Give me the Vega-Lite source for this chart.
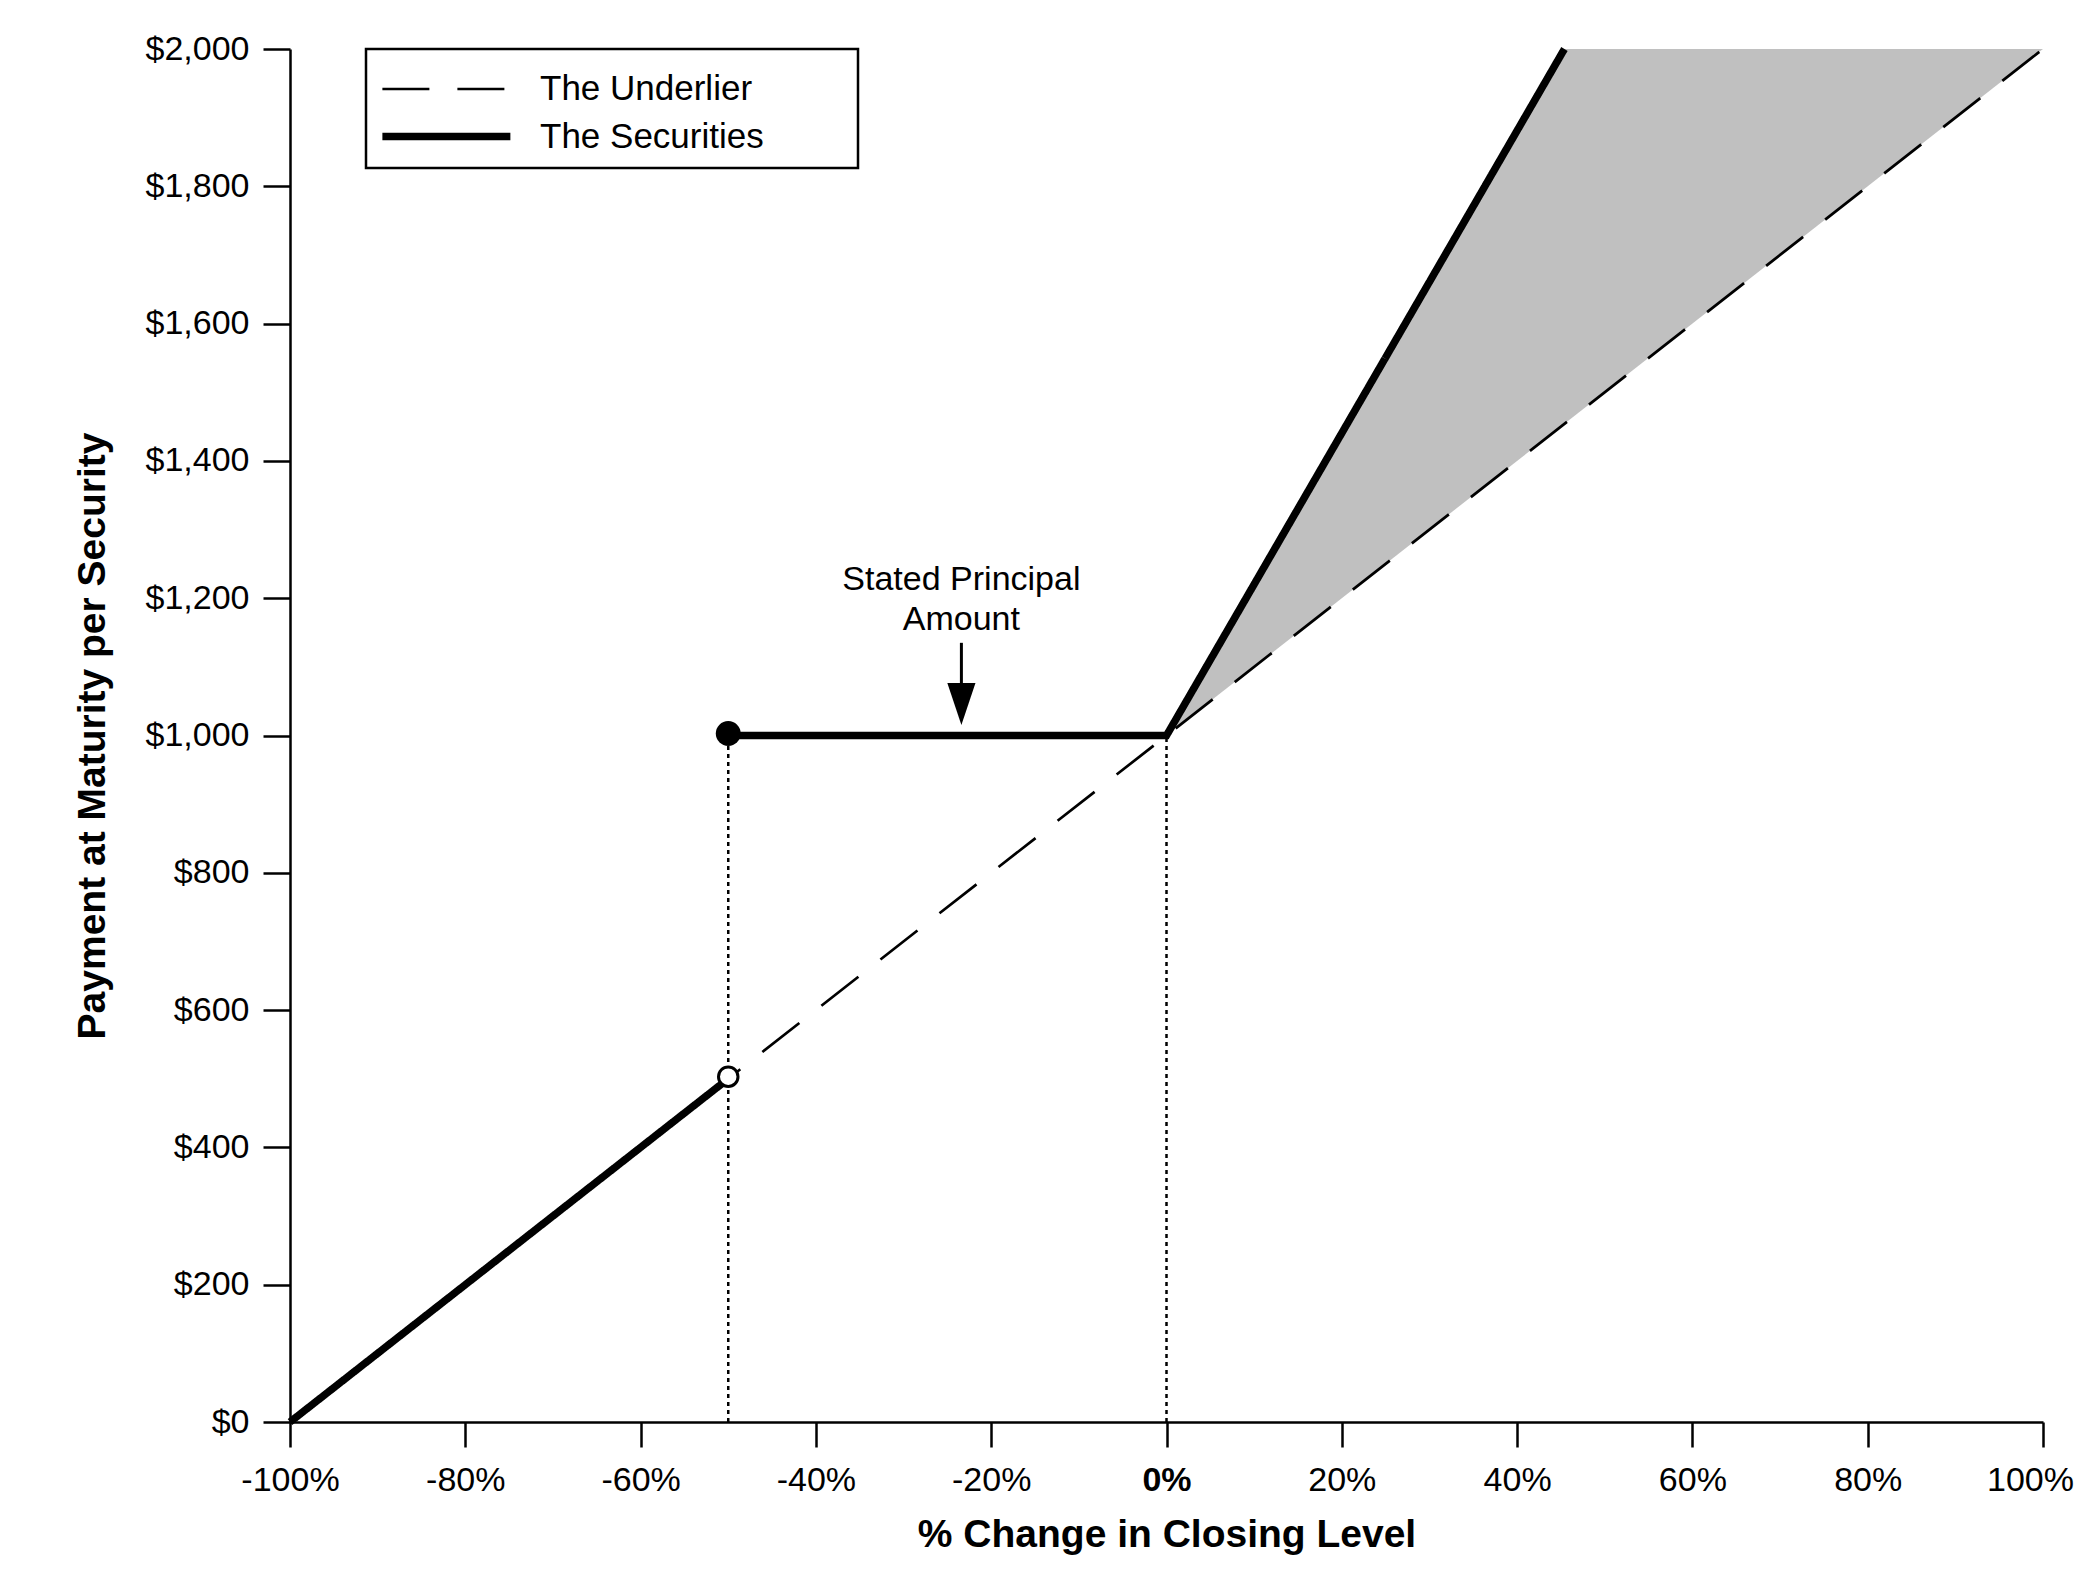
{
  "$schema": "https://vega.github.io/schema/vega-lite/v6.json",
  "width": 1753,
  "height": 1373,
  "autosize": {"type": "none"},
  "padding": {"left": 290, "top": 49, "right": 37, "bottom": 163},
  "background": "white",
  "config": {
    "view": {"stroke": null},
    "font": "Liberation Sans",
    "axis": {
      "grid": false,
      "domainColor": "black",
      "domainWidth": 2.5,
      "tickColor": "black",
      "tickWidth": 2.5,
      "labelColor": "black",
      "titleColor": "black",
      "labelFont": "Liberation Sans",
      "titleFont": "Liberation Sans",
      "labelFontSize": 34,
      "titleFontSize": 39,
      "titleFontWeight": "bold"
    }
  },
  "datasets": {
    "shade": [
      {"x": 0, "y": 1000, "y2": 1000},
      {"x": 45.4, "y": 2000, "y2": 1454},
      {"x": 100, "y": 2000, "y2": 2000}
    ],
    "guides": [
      {"x": -50, "y": 0, "y2": 1000},
      {"x": 0, "y": 0, "y2": 1000}
    ],
    "lines": [
      {"series": "The Underlier", "seg": "u", "x": -100, "y": 0},
      {"series": "The Underlier", "seg": "u", "x": 100, "y": 2000},
      {"series": "The Securities", "seg": "a", "x": -100, "y": 0},
      {"series": "The Securities", "seg": "a", "x": -50, "y": 500},
      {"series": "The Securities", "seg": "b", "x": -50, "y": 1000},
      {"series": "The Securities", "seg": "b", "x": 0, "y": 1000},
      {"series": "The Securities", "seg": "b", "x": 45.4, "y": 2000}
    ],
    "filledPt": [{"x": -50, "y": 1003}],
    "openPt": [{"x": -50, "y": 503}],
    "arrowShaft": [{"x": -23.4, "y": 1135, "y2": 1060}],
    "arrowHead": [{"x": -23.4, "y": 1046}],
    "note": [
      {"x": -23.4, "y": 1226, "t": "Stated Principal"},
      {"x": -23.4, "y": 1168, "t": "Amount"}
    ]
  },
  "encoding": {
    "x": {
      "field": "x",
      "type": "quantitative",
      "scale": {"domain": [-100, 100], "nice": false, "zero": false},
      "axis": {
        "title": "% Change in Closing Level",
        "values": [-100, -80, -60, -40, -20, 0, 20, 40, 60, 80, 100],
        "labelExpr": "datum.value + '%'",
        "labelFontWeight": {"condition": {"test": "datum.value === 0", "value": "bold"}, "value": "normal"},
        "labelOffset": {"condition": {"test": "datum.value === 100", "value": -13}, "value": 0},
        "tickSize": 25,
        "labelPadding": 16,
        "titlePadding": 18,
        "labelFlush": false,
        "labelOverlap": false
      }
    },
    "y": {
      "field": "y",
      "type": "quantitative",
      "scale": {"domain": [0, 2000], "nice": false},
      "axis": {
        "title": "Payment at Maturity per Security",
        "values": [0, 200, 400, 600, 800, 1000, 1200, 1400, 1600, 1800, 2000],
        "labelExpr": "'$' + format(datum.value, ',')",
        "tickSize": 27,
        "labelPadding": 14,
        "titlePadding": 33,
        "labelOverlap": false
      }
    }
  },
  "layer": [
    {
      "data": {"name": "shade"},
      "mark": {"type": "area", "color": "#c0c0c0", "opacity": 1},
      "encoding": {"y2": {"field": "y2"}}
    },
    {
      "data": {"name": "guides"},
      "mark": {"type": "rule", "color": "black", "strokeWidth": 2.5, "strokeDash": [4, 4]},
      "encoding": {"y2": {"field": "y2"}}
    },
    {
      "data": {"name": "lines"},
      "mark": {"type": "line", "color": "black"},
      "encoding": {
        "detail": {"field": "seg"},
        "strokeDash": {
          "field": "series",
          "type": "ordinal",
          "scale": {"domain": ["The Underlier", "The Securities"], "range": [[47, 28], [1, 0]]},
          "legend": {
            "title": "WWW",
            "titleOrient": "right",
            "titleOpacity": 0,
            "titleFontSize": 26,
            "titlePadding": 7,
            "orient": "none",
            "legendX": 76,
            "legendY": 0,
            "padding": 13,
            "strokeColor": "black",
            "symbolType": "M-1.02,0L3.98,0",
            "symbolSize": 2621,
            "symbolStrokeColor": "black",
            "symbolFillColor": "transparent",
            "labelFont": "Liberation Sans",
            "labelFontSize": 35,
            "labelColor": "black",
            "labelLimit": 0,
            "labelOffset": 102,
            "rowPadding": 0,
            "encode": {"legend": {"update": {"strokeWidth": {"value": 2.5}}}}
          }
        },
        "strokeWidth": {
          "field": "series",
          "type": "ordinal",
          "scale": {"domain": ["The Underlier", "The Securities"], "range": [2.7, 7.5]},
          "legend": {
            "title": "WWW",
            "titleOrient": "right",
            "titleOpacity": 0,
            "titleFontSize": 26,
            "titlePadding": 7,
            "orient": "none",
            "legendX": 76,
            "legendY": 0,
            "padding": 13,
            "strokeColor": "black",
            "symbolType": "M-1.02,0L3.98,0",
            "symbolSize": 2621,
            "symbolStrokeColor": "black",
            "symbolFillColor": "transparent",
            "labelFont": "Liberation Sans",
            "labelFontSize": 35,
            "labelColor": "black",
            "labelLimit": 0,
            "labelOffset": 102,
            "rowPadding": 0,
            "encode": {"legend": {"update": {"strokeWidth": {"value": 2.5}}}}
          }
        }
      }
    },
    {
      "data": {"name": "filledPt"},
      "mark": {"type": "point", "shape": "circle", "filled": true, "color": "black", "size": 620, "opacity": 1}
    },
    {
      "data": {"name": "openPt"},
      "mark": {"type": "point", "shape": "circle", "filled": false, "fill": "white", "fillOpacity": 1, "stroke": "black", "strokeWidth": 3, "size": 380, "opacity": 1}
    },
    {
      "data": {"name": "arrowShaft"},
      "mark": {"type": "rule", "color": "black", "strokeWidth": 3},
      "encoding": {"y2": {"field": "y2"}}
    },
    {
      "data": {"name": "arrowHead"},
      "mark": {"type": "point", "shape": "M-0.67,-1L0.67,-1L0,1Z", "filled": true, "color": "black", "size": 1764, "opacity": 1, "strokeWidth": 0}
    },
    {
      "data": {"name": "note"},
      "mark": {"type": "text", "font": "Liberation Sans", "fontSize": 34, "color": "black", "align": "center", "baseline": "middle"},
      "encoding": {"text": {"field": "t"}}
    }
  ]
}
